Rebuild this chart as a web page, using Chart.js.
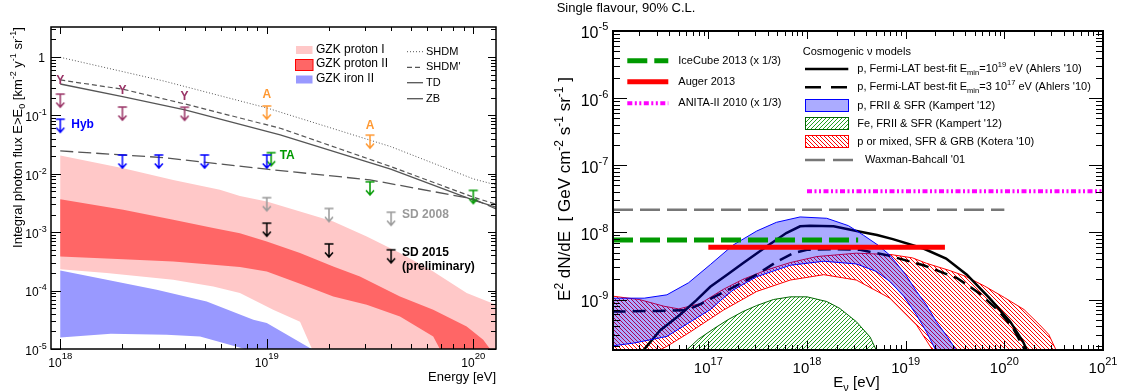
<!DOCTYPE html>
<html>
<head>
<meta charset="utf-8">
<title>UHE photon and neutrino limits</title>
<script src="https://cdn.jsdelivr.net/npm/chart.js@4.4.1/dist/chart.umd.min.js"></script>
<style>
  html, body { margin: 0; padding: 0; background: #ffffff; }
  #page { position: relative; width: 1124px; height: 392px; overflow: hidden; background: #ffffff; }
  #photonChart { position: absolute; left: 0; top: 0; }
  #neutrinoChart { position: absolute; left: 540px; top: 0; }
</style>
</head>
<body>
<div id="page">
  <canvas id="photonChart" width="540" height="392"></canvas>
  <canvas id="neutrinoChart" width="584" height="392"></canvas>
</div>
<script>
const FONT = '"Liberation Sans", Arial, Helvetica, sans-serif';

/* ======================= Photon panel ======================= */
/* axis ranges: energy [eV], integral flux [km^-2 yr^-1 sr^-1] */
const photonE_min = 9.02e17, photonE_max = 1.288e20;
const photonF_min = 1e-5, photonF_max = 3.265;
const photonXTicks = [1e18, 1e19, 1e20];
const photonYTicks = [1, 1e-1, 1e-2, 1e-3, 1e-4, 1e-5];

/* GZK bands, digitised as log10(E/eV) and log10(flux) */
const protonI_upLogE  = [18.0, 18.305, 18.547, 18.773, 18.87, 19.0, 19.161, 19.322, 19.484, 19.645, 19.806, 19.968, 20.11];
const protonI_upLogF  = [-1.688, -1.904, -2.104, -2.275, -2.378, -2.475, -2.646, -2.817, -3.074, -3.358, -3.673, -4.042, -4.242];
const protonI_loLogE  = [18.0, 18.225, 18.547, 18.741, 18.87, 19.031, 19.161, 19.219];
const protonI_loLogF  = [-3.635, -3.70, -3.815, -3.929, -4.042, -4.328, -4.533, -5.0];

const protonII_upLogE = [18.0, 18.305, 18.547, 18.741, 18.87, 19.0, 19.161, 19.322, 19.451, 19.645, 19.806, 19.968, 20.048, 20.081];
const protonII_upLogF = [-2.434, -2.617, -2.788, -2.930, -3.016, -3.159, -3.358, -3.587, -3.758, -4.100, -4.328, -4.613, -4.841, -5.0];
const protonII_loLogE = [18.0, 18.305, 18.547, 18.741, 18.87, 19.0, 19.161, 19.322, 19.484, 19.645, 19.806, 19.838];
const protonII_loLogF = [-3.416, -3.461, -3.502, -3.558, -3.597, -3.673, -3.883, -4.100, -4.242, -4.442, -4.784, -5.0];

const ironII_upLogE   = [18.0, 18.225, 18.467, 18.709, 18.935, 19.0, 19.217];
const ironII_upLogF   = [-3.655, -3.815, -3.986, -4.186, -4.499, -4.555, -5.0];
const ironII_loLogE   = [18.0, 18.245, 18.515, 18.677, 18.894];
const ironII_loLogF   = [-4.801, -4.738, -4.755, -4.784, -5.0];

/* top-down model predictions */
const shdm_logE   = [18.0, 18.5, 19.0, 19.6, 20.0, 20.11];
const shdm_logF   = [-0.005, -0.41, -0.872, -1.534, -2.087, -2.19];
const shdmP_logE  = [18.0, 18.305, 18.604, 19.065, 19.6, 20.0, 20.11];
const shdmP_logF  = [-0.393, -0.553, -0.804, -1.22, -1.876, -2.40, -2.52];
const td_logE     = [18.0, 18.302, 18.604, 19.065, 19.6, 20.0, 20.11];
const td_logF     = [-0.462, -0.679, -0.907, -1.334, -1.92, -2.45, -2.57];
const zb_logE     = [18.0, 18.5, 19.0, 19.5, 19.8, 20.0, 20.11];
const zb_logF     = [-1.608, -1.723, -1.921, -2.104, -2.30, -2.43, -2.60];

/* upper limits: energy threshold [eV] and flux limit */
const yakutskE   = [1e18, 2e18, 4e18];
const yakutskF   = [0.232, 0.139, 0.138];
const agasaE     = [1e19, 3.16e19];
const agasaF     = [0.145, 0.046];
const hybE       = [1e18, 2e18, 3e18, 5e18, 1e19];
const hybF       = [0.086, 0.021, 0.021, 0.021, 0.021];
const taE        = [1.05e19, 3.16e19, 1e20];
const taF        = [0.023, 7.3e-3, 5.2e-3];
const sd2008E    = [1e19, 2e19, 4e19];
const sd2008F    = [3.9e-3, 2.55e-3, 2.2e-3];
const sd2015E    = [1e19, 2e19, 4e19];
const sd2015F    = [1.43e-3, 6.3e-4, 5.0e-4];

/* ======================= Neutrino panel ======================= */
/* axis ranges: E_nu [eV], E^2 dN/dE [GeV cm^-2 s^-1 sr^-1] */
const nuE_min = 1.081e16, nuE_max = 1e21;
const nuF_min = 1.77e-10, nuF_max = 1e-5;
const nuXTicks = [1e17, 1e18, 1e19, 1e20, 1e21];
const nuYTicks = [1e-5, 1e-6, 1e-7, 1e-8, 1e-9];

/* cosmogenic models, log10(E/eV) and log10(flux) */
const ahlers19_logE = [16.34, 16.51, 16.71, 16.88, 17.02, 17.19, 17.35, 17.59, 17.79, 17.93, 18.03, 18.27, 18.54, 18.71, 18.87, 19.18, 19.41, 19.62, 19.85, 20.06, 20.19, 20.23];
const ahlers19_logF = [-9.76, -9.46, -9.23, -9.01, -8.81, -8.63, -8.46, -8.21, -8.01, -7.91, -7.90, -7.91, -7.99, -8.04, -8.10, -8.24, -8.39, -8.63, -8.98, -9.33, -9.63, -9.76];
const ahlers17_logE = [16.03, 16.50, 16.78, 16.92, 17.02, 17.25, 17.49, 17.69, 17.86, 18.00, 18.30, 18.54, 18.84, 19.18, 19.52, 19.75, 19.95, 20.09, 20.19, 20.21];
const ahlers17_logF = [-9.18, -9.17, -9.16, -9.07, -8.99, -8.82, -8.63, -8.44, -8.31, -8.26, -8.25, -8.26, -8.35, -8.49, -8.68, -8.91, -9.18, -9.43, -9.70, -9.76];

const kampertP_upLogE = [16.03, 16.35, 16.58, 16.80, 17.02, 17.25, 17.49, 17.69, 17.93, 18.20, 18.42, 18.57, 18.72, 18.84, 19.00, 19.11, 19.21, 19.31, 19.42, 19.52];
const kampertP_upLogF = [-8.98, -8.98, -8.93, -8.75, -8.48, -8.19, -7.98, -7.85, -7.77, -7.79, -7.90, -8.04, -8.19, -8.34, -8.63, -8.88, -9.08, -9.33, -9.55, -9.77];
const kampertP_loLogE = [16.03, 16.24, 16.58, 16.82, 17.02, 17.15, 17.25, 17.49, 17.83, 18.17, 18.50, 18.70, 18.84, 18.98, 19.11, 19.21, 19.31];
const kampertP_loLogF = [-9.69, -9.65, -9.55, -9.33, -9.15, -8.98, -8.86, -8.66, -8.49, -8.43, -8.47, -8.58, -8.73, -8.95, -9.23, -9.48, -9.77];

const kampertFe_logE  = [16.76, 16.90, 17.05, 17.20, 17.35, 17.49, 17.66, 17.83, 18.00, 18.20, 18.33, 18.50, 18.64, 18.71];
const kampertFe_logF  = [-9.78, -9.59, -9.44, -9.30, -9.18, -9.09, -9.00, -8.96, -8.96, -9.03, -9.13, -9.33, -9.56, -9.78];

const kotera_upLogE = [16.03, 16.30, 16.55, 16.70, 16.92, 17.15, 17.35, 17.59, 17.83, 18.10, 18.50, 18.85, 19.07, 19.21, 19.45, 19.60, 19.80, 20.00, 20.20, 20.36, 20.45, 20.53];
const kotera_upLogF = [-8.95, -9.00, -9.10, -9.14, -9.06, -8.85, -8.70, -8.56, -8.45, -8.36, -8.31, -8.33, -8.38, -8.46, -8.57, -8.65, -8.80, -8.97, -9.15, -9.38, -9.52, -9.77];
const kotera_loLogE = [16.45, 16.60, 16.82, 17.15, 17.49, 17.83, 18.17, 18.50, 18.84, 19.11, 19.28];
const kotera_loLogF = [-9.80, -9.68, -9.48, -9.16, -8.88, -8.71, -8.63, -8.71, -8.98, -9.38, -9.77];

/* experimental limits (single flavour, 90% C.L.): energy span and level */
const icecubeE = [nuE_min, 3.3e18];
const icecubeF = 7.7e-9;
const augerE   = [1e17, 2.5e19];
const augerF   = 6.0e-9;
const anitaE   = [1e18, 1e21];
const anitaF   = 4.1e-8;
const wbE      = [nuE_min, 1e20];
const wbF      = 2.17e-8;

/* ======================= helpers ======================= */
function pts(logE, logF) {
  return logE.map((e, i) => ({ x: Math.pow(10, e), y: Math.pow(10, logF[i]) }));
}
function flat(E, F) {
  return E.map(e => ({ x: e, y: F }));
}
function limits(E, F) {
  return E.map((e, i) => ({ x: e, y: F[i] }));
}
/* closed outline: upper edge, down to a floor below the axis, back along the lower edge */
function band(upper, lower, floor, closeLeft) {
  const path = upper.slice();
  path.push({ x: upper[upper.length - 1].x, y: floor });
  path.push({ x: lower[lower.length - 1].x, y: floor });
  for (let i = lower.length - 1; i >= 0; i--) path.push(lower[i]);
  if (closeLeft) path.push({ x: lower[0].x, y: floor }, { x: upper[0].x, y: floor });
  return path;
}
/* crisp one-pixel diagonal hatching */
function hatch(color, forward, size) {
  const s = size, c = document.createElement('canvas');
  c.width = s; c.height = s;
  const g = c.getContext('2d');
  g.fillStyle = color;
  for (let i = 0; i < s; i++) g.fillRect(i, forward ? s - 1 - i : i, 1, 1);
  return g.createPattern(c, 'repeat');
}
/* upper-limit glyph: bar at the limit, arrow pointing down; bar sits at the canvas centre */
function limitGlyph(color) {
  const c = document.createElement('canvas');
  c.width = 12; c.height = 30;
  const g = c.getContext('2d');
  g.strokeStyle = color; g.lineWidth = 1.5;
  g.beginPath();
  g.moveTo(1.5, 15); g.lineTo(10.5, 15);
  g.moveTo(6, 15); g.lineTo(6, 28);
  g.moveTo(2, 23.5); g.lineTo(6, 28); g.lineTo(10, 23.5);
  g.stroke();
  return c;
}
/* text with super/subscripts: parts = [[text, kind]], kind 1 = sup, -1 = sub */
function drawRich(ctx, parts, x, y, opt) {
  const size = opt.size, small = opt.small || Math.round(size * 0.7);
  const weight = opt.bold ? 'bold ' : '';
  const fontOf = k => weight + (k ? small : size) + 'px ' + FONT;
  let total = 0;
  const widths = parts.map(([t, k]) => { ctx.font = fontOf(k); const w = ctx.measureText(t).width; total += w; return w; });
  ctx.save();
  ctx.translate(x, y);
  if (opt.rotate) ctx.rotate(opt.rotate);
  let cx = opt.align === 'center' ? -total / 2 : (opt.align === 'right' ? -total : 0);
  ctx.fillStyle = opt.color || '#000';
  ctx.textAlign = 'left';
  ctx.textBaseline = opt.baseline || 'alphabetic';
  parts.forEach(([t, k], i) => {
    ctx.font = fontOf(k);
    const dy = k === 1 ? -(opt.raise !== undefined ? opt.raise : size * 0.42)
             : (k === -1 ? (opt.drop !== undefined ? opt.drop : size * 0.3) : 0);
    ctx.fillText(t, cx, dy);
    cx += widths[i];
  });
  ctx.restore();
  return total;
}
/* log-scale tick marks drawn inward from one side of the frame */
function logTicks(ctx, scale, a, side, majorLen, minorLen) {
  const lo = Math.floor(Math.log10(scale.min)), hi = Math.ceil(Math.log10(scale.max));
  ctx.beginPath();
  for (let d = lo; d <= hi; d++) {
    for (let m = 1; m <= 9; m++) {
      const v = m * Math.pow(10, d);
      if (v < scale.min * 0.9999 || v > scale.max * 1.0001) continue;
      const p = Math.round(scale.getPixelForValue(v)) + 0.5;
      const len = m === 1 ? majorLen : minorLen;
      if (side === 'bottom') { ctx.moveTo(p, a.bottom); ctx.lineTo(p, a.bottom - len); }
      if (side === 'top')    { ctx.moveTo(p, a.top); ctx.lineTo(p, a.top + len); }
      if (side === 'left')   { ctx.moveTo(a.left, p); ctx.lineTo(a.left + len, p); }
      if (side === 'right')  { ctx.moveTo(a.right, p); ctx.lineTo(a.right - len, p); }
    }
  }
  ctx.stroke();
}
function lineSample(ctx, x0, x1, y, color, width, dash) {
  ctx.save();
  ctx.strokeStyle = color; ctx.lineWidth = width; ctx.setLineDash(dash || []);
  ctx.beginPath(); ctx.moveTo(x0, y); ctx.lineTo(x1, y); ctx.stroke();
  ctx.restore();
}
function expOf(v) { return String(Math.round(Math.log10(v))); }

/* ======================= Photon chart ======================= */
const PINK = '#FFC8C8', RED_BAND = '#FF6666', IRON = '#9999FF', MODEL = '#555555';
const C_Y = '#993366', C_A = '#FF9933', C_HYB = '#0000FF', C_TA = '#009900', C_SD08 = '#999999', C_SD15 = '#000000';

const photonDatasets = [
  { label: 'GZK proton I', data: band(pts(protonI_upLogE, protonI_upLogF), pts(protonI_loLogE, protonI_loLogF), 1e-7, false),
    fill: 'shape', backgroundColor: PINK, borderWidth: 0, borderColor: 'rgba(0,0,0,0)', pointRadius: 0, clip: 0, order: 10 },
  { label: 'GZK proton II', data: band(pts(protonII_upLogE, protonII_upLogF), pts(protonII_loLogE, protonII_loLogF), 1e-7, false),
    fill: 'shape', backgroundColor: RED_BAND, borderWidth: 0, borderColor: 'rgba(0,0,0,0)', pointRadius: 0, clip: 0, order: 9 },
  { label: 'GZK iron II', data: band(pts(ironII_upLogE, ironII_upLogF), pts(ironII_loLogE, ironII_loLogF), 1e-7, false),
    fill: 'shape', backgroundColor: IRON, borderWidth: 0, borderColor: 'rgba(0,0,0,0)', pointRadius: 0, clip: 0, order: 8 },
  { label: 'SHDM', data: pts(shdm_logE, shdm_logF), borderColor: '#555555', borderWidth: 1, borderDash: [1, 2], fill: false, pointRadius: 0, order: 6 },
  { label: "SHDM'", data: pts(shdmP_logE, shdmP_logF), borderColor: MODEL, borderWidth: 1.2, borderDash: [5, 3], fill: false, pointRadius: 0, order: 6 },
  { label: 'TD', data: pts(td_logE, td_logF), borderColor: MODEL, borderWidth: 1.3, fill: false, pointRadius: 0, order: 6 },
  { label: 'ZB', data: pts(zb_logE, zb_logF), borderColor: MODEL, borderWidth: 1.3, borderDash: [13, 5], fill: false, pointRadius: 0, order: 6 },
  { label: 'Yakutsk', data: limits(yakutskE, yakutskF), showLine: false, pointStyle: limitGlyph(C_Y), pointRadius: 4, clip: false, order: 1 },
  { label: 'AGASA', data: limits(agasaE, agasaF), showLine: false, pointStyle: limitGlyph(C_A), pointRadius: 4, clip: false, order: 1 },
  { label: 'Hyb', data: limits(hybE, hybF), showLine: false, pointStyle: limitGlyph(C_HYB), pointRadius: 4, clip: false, order: 1 },
  { label: 'TA', data: limits(taE, taF), showLine: false, pointStyle: limitGlyph(C_TA), pointRadius: 4, clip: false, order: 1 },
  { label: 'SD 2008', data: limits(sd2008E, sd2008F), showLine: false, pointStyle: limitGlyph(C_SD08), pointRadius: 4, clip: false, order: 1 },
  { label: 'SD 2015', data: limits(sd2015E, sd2015F), showLine: false, pointStyle: limitGlyph(C_SD15), pointRadius: 4, clip: false, order: 1 }
];

/* annotation text attached to limit markers: [dataset, point, text, dx, dy, align, colour] */
const photonMarkerText = [
  ['Yakutsk', 0, 'Y', 0, -13, 'center', C_Y],
  ['Yakutsk', 1, 'Y', 0, -16.5, 'center', C_Y],
  ['Yakutsk', 2, 'Y', 0, -10.5, 'center', C_Y],
  ['AGASA', 0, 'A', 0, -11, 'center', C_A],
  ['AGASA', 1, 'A', 0, -9, 'center', C_A],
  ['Hyb', 0, 'Hyb', 11, 5.7, 'left', C_HYB],
  ['TA', 0, 'TA', 8.5, 2.7, 'left', C_TA],
  ['SD 2008', 2, 'SD 2008', 11, 2.5, 'left', C_SD08],
  ['SD 2015', 2, 'SD 2015', 11, 3.3, 'left', C_SD15],
  ['SD 2015', 2, '(preliminary)', 11, 17.3, 'left', C_SD15]
];

const photonDecor = {
  id: 'photonDecor',
  afterDraw(chart) {
    const { ctx, chartArea: a, scales: { x, y } } = chart;
    ctx.save();
    /* marker annotations */
    ctx.font = 'bold 12px ' + FONT;
    ctx.textBaseline = 'middle';
    photonMarkerText.forEach(([set, idx, text, dx, dy, align, color]) => {
      const di = chart.data.datasets.findIndex(d => d.label === set);
      const pt = chart.getDatasetMeta(di).data[idx];
      ctx.fillStyle = color; ctx.textAlign = align;
      ctx.fillText(text, pt.x + dx, pt.y + dy);
    });
    /* ticks and frame */
    ctx.strokeStyle = '#000'; ctx.lineWidth = 1;
    logTicks(ctx, x, a, 'bottom', 10, 5);
    logTicks(ctx, x, a, 'top', 7, 4);
    logTicks(ctx, y, a, 'left', 10, 5);
    logTicks(ctx, y, a, 'right', 8, 5);
    ctx.lineWidth = 1.5;
    ctx.strokeRect(a.left, a.top, a.right - a.left, a.bottom - a.top);
    /* tick labels */
    photonXTicks.forEach(v => {
      drawRich(ctx, [['10', 0], [expOf(v), 1]], x.getPixelForValue(v), a.bottom + 18.3,
        { size: 12, small: 9.5, align: 'center', raise: 8.5 });
    });
    photonYTicks.forEach(v => {
      const p = y.getPixelForValue(v);
      if (v === 1) {
        ctx.font = '12px ' + FONT; ctx.fillStyle = '#000'; ctx.textAlign = 'right'; ctx.textBaseline = 'alphabetic';
        ctx.fillText('1', a.left - 6, p + 5);
      } else {
        drawRich(ctx, [['10', 0], [expOf(v), 1]], a.left - 4.3, p + 5.8,
          { size: 12, small: 9, align: 'right', raise: 6 });
      }
    });
    /* axis titles */
    ctx.font = '13px ' + FONT; ctx.fillStyle = '#000'; ctx.textAlign = 'right'; ctx.textBaseline = 'alphabetic';
    ctx.fillText('Energy [eV]', a.right, a.bottom + 32);
    drawRich(ctx, [['Integral photon flux E>E', 0], ['0', -1], [' [km', 0], ['-2', 1], [' y', 0], ['-1', 1], [' sr', 0], ['-1', 1], [']', 0]],
      21.5, 137.5, { size: 13, small: 9, align: 'center', rotate: -Math.PI / 2, raise: 5.5, drop: 3.5 });
    /* legend: bands */
    ctx.fillStyle = PINK; ctx.fillRect(296, 46, 16.5, 8);
    ctx.fillStyle = RED_BAND; ctx.fillRect(295.5, 59.5, 17.5, 11);
    ctx.strokeStyle = '#FF0000'; ctx.lineWidth = 1; ctx.strokeRect(295.5, 59.5, 17.5, 11);
    ctx.fillStyle = IRON; ctx.fillRect(296, 75.5, 16.5, 8);
    ctx.font = '12px ' + FONT; ctx.fillStyle = '#000'; ctx.textAlign = 'left'; ctx.textBaseline = 'middle';
    ctx.fillText('GZK proton I', 316, 50);
    ctx.fillText('GZK proton II', 316, 63.5);
    ctx.fillText('GZK iron II', 316, 79);
    /* legend: model lines */
    lineSample(ctx, 407, 423, 51.7, '#555555', 1, [1, 2]);
    lineSample(ctx, 407, 423, 67.3, MODEL, 1.2, [5, 3]);
    lineSample(ctx, 407, 423, 82.7, MODEL, 1.3, []);
    lineSample(ctx, 407, 423, 98.7, MODEL, 1.3, []);
    ctx.font = '11px ' + FONT; ctx.fillStyle = '#000';
    ctx.fillText('SHDM', 426, 51.7);
    ctx.fillText("SHDM'", 426, 67.3);
    ctx.fillText('TD', 426, 82.7);
    ctx.fillText('ZB', 426, 98.7);
    ctx.restore();
  }
};

new Chart(document.getElementById('photonChart'), {
  type: 'line',
  data: { datasets: photonDatasets },
  options: {
    responsive: false, animation: false, devicePixelRatio: 1, events: [],
    layout: { padding: { left: 51, right: 44, top: 27, bottom: 43 } },
    scales: {
      x: { type: 'logarithmic', min: photonE_min, max: photonE_max, display: false },
      y: { type: 'logarithmic', min: photonF_min, max: photonF_max, display: false }
    },
    elements: { line: { tension: 0 }, point: { hitRadius: 0 } },
    plugins: { legend: { display: false }, tooltip: { enabled: false } }
  },
  plugins: [photonDecor]
});

/* ======================= Neutrino chart ======================= */
const BLUE_FILL = 'rgba(0, 0, 255, 0.33)';
const redHatch = hatch('#FF0000', false, 4);
const greenHatch = hatch('#22A022', true, 4);

const nuDatasets = [
  { label: 'p or mixed, SFR & GRB (Kotera \'10)', data: band(pts(kotera_upLogE, kotera_upLogF), pts(kotera_loLogE, kotera_loLogF), 1e-11, true),
    fill: 'shape', backgroundColor: redHatch, borderColor: '#FF0000', borderWidth: 1, pointRadius: 0, clip: 0, order: 10 },
  { label: 'Fe, FRII & SFR (Kampert \'12)', data: pts(kampertFe_logE, kampertFe_logF),
    fill: 'shape', backgroundColor: greenHatch, borderColor: '#006600', borderWidth: 1, pointRadius: 0, clip: 0, order: 9 },
  { label: 'p, Fermi-LAT Emin=1e19', data: pts(ahlers19_logE, ahlers19_logF), borderColor: '#000', borderWidth: 2.5, fill: false, pointRadius: 0, clip: 0, order: 8 },
  { label: 'p, Fermi-LAT Emin=3e17', data: pts(ahlers17_logE, ahlers17_logF), borderColor: '#000', borderWidth: 2.5, borderDash: [13, 7], fill: false, pointRadius: 0, clip: 0, order: 7 },
  { label: 'p, FRII & SFR (Kampert \'12)', data: band(pts(kampertP_upLogE, kampertP_upLogF), pts(kampertP_loLogE, kampertP_loLogF), 1e-11, false),
    fill: 'shape', backgroundColor: BLUE_FILL, borderColor: '#0000FF', borderWidth: 1, pointRadius: 0, clip: 0, order: 6 },
  { label: 'Waxman-Bahcall \'01', data: flat(wbE, wbF), borderColor: '#777777', borderWidth: 2.5, borderDash: [20, 7], fill: false, pointRadius: 0, clip: 0, order: 5 },
  { label: 'IceCube 2013 (x 1/3)', data: flat(icecubeE, icecubeF), borderColor: '#009900', borderWidth: 5, borderDash: [20, 7], fill: false, pointRadius: 0, clip: 0, order: 4 },
  { label: 'Auger 2013', data: flat(augerE, augerF), borderColor: '#FF0000', borderWidth: 5, fill: false, pointRadius: 0, clip: 0, order: 3 },
  { label: 'ANITA-II 2010 (x 1/3)', data: flat(anitaE, anitaF), borderColor: '#FF00FF', borderWidth: 4, borderDash: [5, 2.5, 2, 2.5, 2, 2.5], fill: false, pointRadius: 0, clip: 0, order: 2 }
];

const nuDecor = {
  id: 'nuDecor',
  afterDraw(chart) {
    const { ctx, chartArea: a, scales: { x, y } } = chart;
    ctx.save();
    ctx.strokeStyle = '#000'; ctx.lineWidth = 1;
    logTicks(ctx, x, a, 'bottom', 9, 5);
    logTicks(ctx, x, a, 'top', 8, 5);
    logTicks(ctx, y, a, 'left', 14, 7);
    logTicks(ctx, y, a, 'right', 14, 7);
    ctx.lineWidth = 2;
    ctx.strokeRect(a.left, a.top, a.right - a.left, a.bottom - a.top);
    /* tick labels */
    nuXTicks.forEach(v => {
      drawRich(ctx, [['10', 0], [expOf(v), 1]], x.getPixelForValue(v), a.bottom + 23.4,
        { size: 15, small: 11, align: 'center', raise: 8 });
    });
    nuYTicks.forEach(v => {
      drawRich(ctx, [['10', 0], [expOf(v), 1]], a.left - 4.7, y.getPixelForValue(v) + 7.4,
        { size: 16, small: 11, align: 'right', raise: 8 });
    });
    /* titles */
    ctx.font = '13px ' + FONT; ctx.fillStyle = '#000'; ctx.textAlign = 'left'; ctx.textBaseline = 'alphabetic';
    ctx.fillText('Single flavour, 90% C.L.', 16.7, 12);
    drawRich(ctx, [['E', 0], ['\u03BD', -1], [' [eV]', 0]], 293.3, 387, { size: 15, small: 11, align: 'left', drop: 4 });
    drawRich(ctx, [['E', 0], ['2', 1], [' dN/dE  [ GeV cm', 0], ['-2', 1], [' s', 0], ['-1', 1], [' sr', 0], ['-1', 1], [' ]', 0]],
      30, 189, { size: 17, small: 12, align: 'center', rotate: -Math.PI / 2, raise: 7 });
    /* legend: experiments */
    lineSample(ctx, 87.3, 128.3, 60.7, '#009900', 5, [20, 7]);
    lineSample(ctx, 87.3, 128.3, 81.7, '#FF0000', 5, []);
    lineSample(ctx, 87.3, 128.3, 103.3, '#FF00FF', 4, [5, 2.5, 2, 2.5, 2, 2.5]);
    ctx.font = '11px ' + FONT; ctx.fillStyle = '#000'; ctx.textAlign = 'left'; ctx.textBaseline = 'middle';
    ctx.fillText('IceCube 2013 (x 1/3)', 138.3, 60.7);
    ctx.fillText('Auger 2013', 138.3, 81.7);
    ctx.fillText('ANITA-II 2010 (x 1/3)', 138.3, 103.3);
    /* legend: cosmogenic models */
    ctx.fillText('Cosmogenic \u03BD models', 262.7, 51.7);
    lineSample(ctx, 265, 308.3, 69, '#000', 2.5, []);
    lineSample(ctx, 265, 308.3, 87.3, '#000', 2.5, [16, 10]);
    ctx.fillStyle = BLUE_FILL; ctx.fillRect(265.5, 99.5, 43, 12);
    ctx.strokeStyle = '#0000FF'; ctx.lineWidth = 1; ctx.strokeRect(265.5, 99.5, 43, 12);
    ctx.fillStyle = greenHatch; ctx.fillRect(265.5, 117.5, 43, 12);
    ctx.strokeStyle = '#006600'; ctx.strokeRect(265.5, 117.5, 43, 12);
    ctx.fillStyle = redHatch; ctx.fillRect(265.5, 135.5, 43, 12);
    ctx.strokeStyle = '#FF0000'; ctx.strokeRect(265.5, 135.5, 43, 12);
    lineSample(ctx, 265, 315, 160, '#777777', 2.5, [20, 8]);
    const opt = { size: 11, small: 7.5, align: 'left', baseline: 'middle', raise: 4, drop: 4, color: '#000' };
    drawRich(ctx, [['p, Fermi-LAT best-fit E', 0], ['min', -1], ['=10', 0], ['19', 1], [' eV (Ahlers \'10)', 0]], 317.3, 69, opt);
    drawRich(ctx, [['p, Fermi-LAT best-fit E', 0], ['min', -1], ['=3 10', 0], ['17', 1], [' eV (Ahlers \'10)', 0]], 317.3, 87.3, opt);
    drawRich(ctx, [['p, FRII & SFR (Kampert \'12)', 0]], 317.3, 105.5, opt);
    drawRich(ctx, [['Fe, FRII & SFR (Kampert \'12)', 0]], 317.3, 123.5, opt);
    drawRich(ctx, [['p or mixed, SFR & GRB (Kotera \'10)', 0]], 317.3, 141.5, opt);
    drawRich(ctx, [['Waxman-Bahcall \'01', 0]], 325, 160, opt);
    ctx.restore();
  }
};

new Chart(document.getElementById('neutrinoChart'), {
  type: 'line',
  data: { datasets: nuDatasets },
  options: {
    responsive: false, animation: false, devicePixelRatio: 1, events: [],
    layout: { padding: { left: 73, right: 21, top: 31, bottom: 42 } },
    scales: {
      x: { type: 'logarithmic', min: nuE_min, max: nuE_max, display: false },
      y: { type: 'logarithmic', min: nuF_min, max: nuF_max, display: false }
    },
    elements: { line: { tension: 0 }, point: { hitRadius: 0 } },
    plugins: { legend: { display: false }, tooltip: { enabled: false } }
  },
  plugins: [nuDecor]
});
</script>
</body>
</html>
